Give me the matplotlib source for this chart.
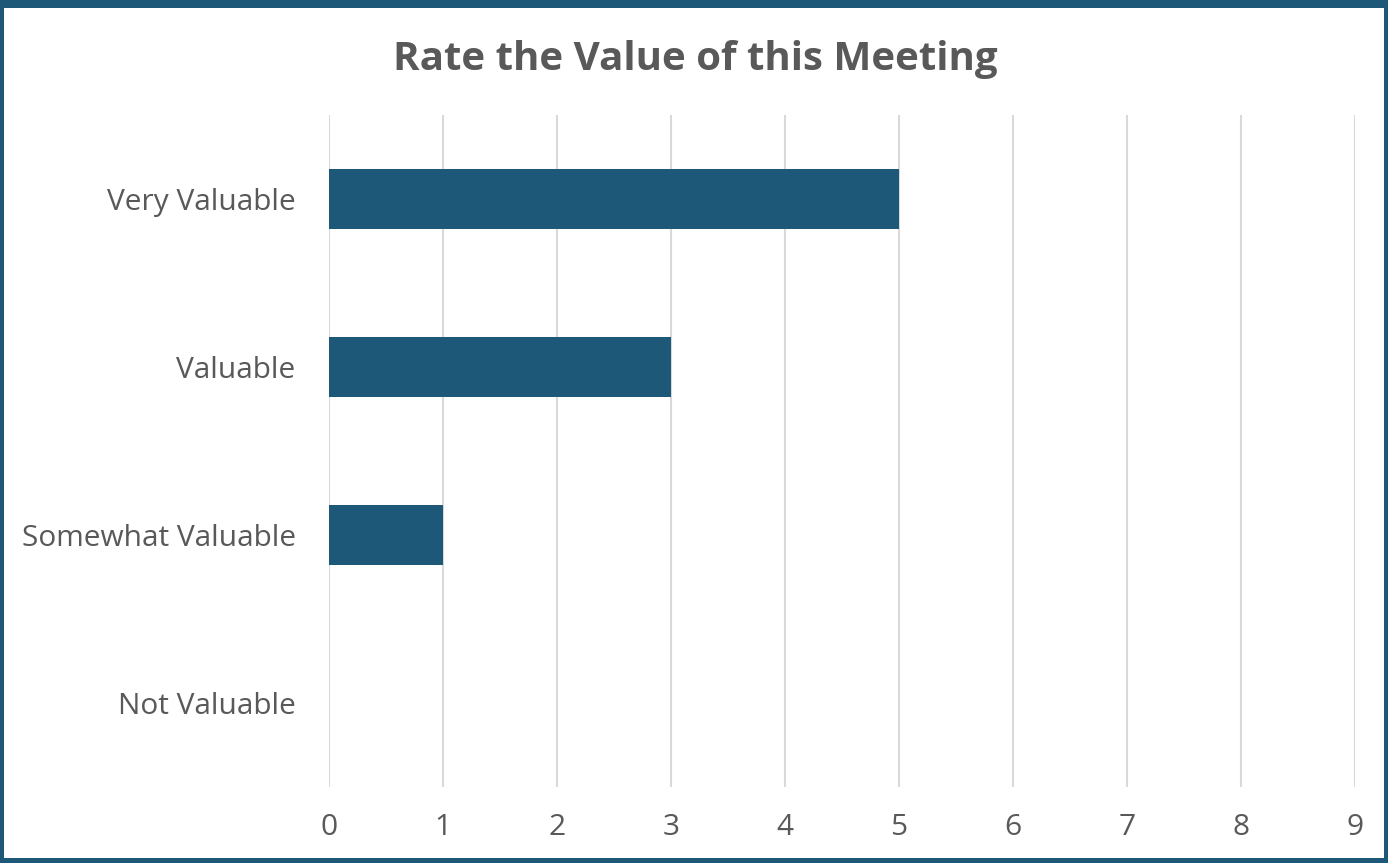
import matplotlib.pyplot as plt
from matplotlib.patches import Rectangle

categories = ['Very Valuable', 'Valuable', 'Somewhat Valuable', 'Not Valuable']
counts = [5, 3, 1, 0]
x_ticks = [0, 1, 2, 3, 4, 5, 6, 7, 8, 9]

bar_color = '#1E5879'
text_color = '#595959'
grid_color = '#D9D9D9'

plt.rcParams['font.family'] = ['Open Sans', 'DejaVu Sans']

W, H = 1388, 863
fig = plt.figure(figsize=(W / 100, H / 100), dpi=100)
ax = fig.add_axes([329 / W, 1 - 787 / H, (1355 - 329) / W, (787 - 115) / H])

pos = list(range(len(categories)))
ax.barh(pos, counts, height=0.36, color=bar_color, zorder=3)
ax.set_ylim(len(categories) - 0.5, -0.5)
ax.set_xlim(0, 9)
ax.set_yticks(pos)
ax.set_yticklabels(categories)
ax.set_xticks(x_ticks)
ax.set_xticklabels([str(t) for t in x_ticks])

ax.grid(axis='x', color=grid_color, linewidth=1.5, zorder=0)
ax.tick_params(length=0, labelsize=21.5, colors=text_color)
ax.tick_params(axis='x', pad=19)
ax.tick_params(axis='y', pad=24)
for s in ax.spines.values():
    s.set_visible(False)

fig.text(695 / W, 1 - 59 / H, 'Rate the Value of this Meeting', ha='center', va='center',
         fontsize=29, fontweight='bold', color=text_color)

# frame around the whole chart (left, right, top, bottom edges)
for x0, y0, w, h in [(0, 0, 4, H), (W - 4, 0, 4, H), (0, 0, W, 8), (0, H - 5, W, 5)]:
    fig.patches.append(Rectangle((x0 / W, 1 - (y0 + h) / H), w / W, h / H,
                                 transform=fig.transFigure, color=bar_color, lw=0))

fig.savefig('out.png', dpi=100)
